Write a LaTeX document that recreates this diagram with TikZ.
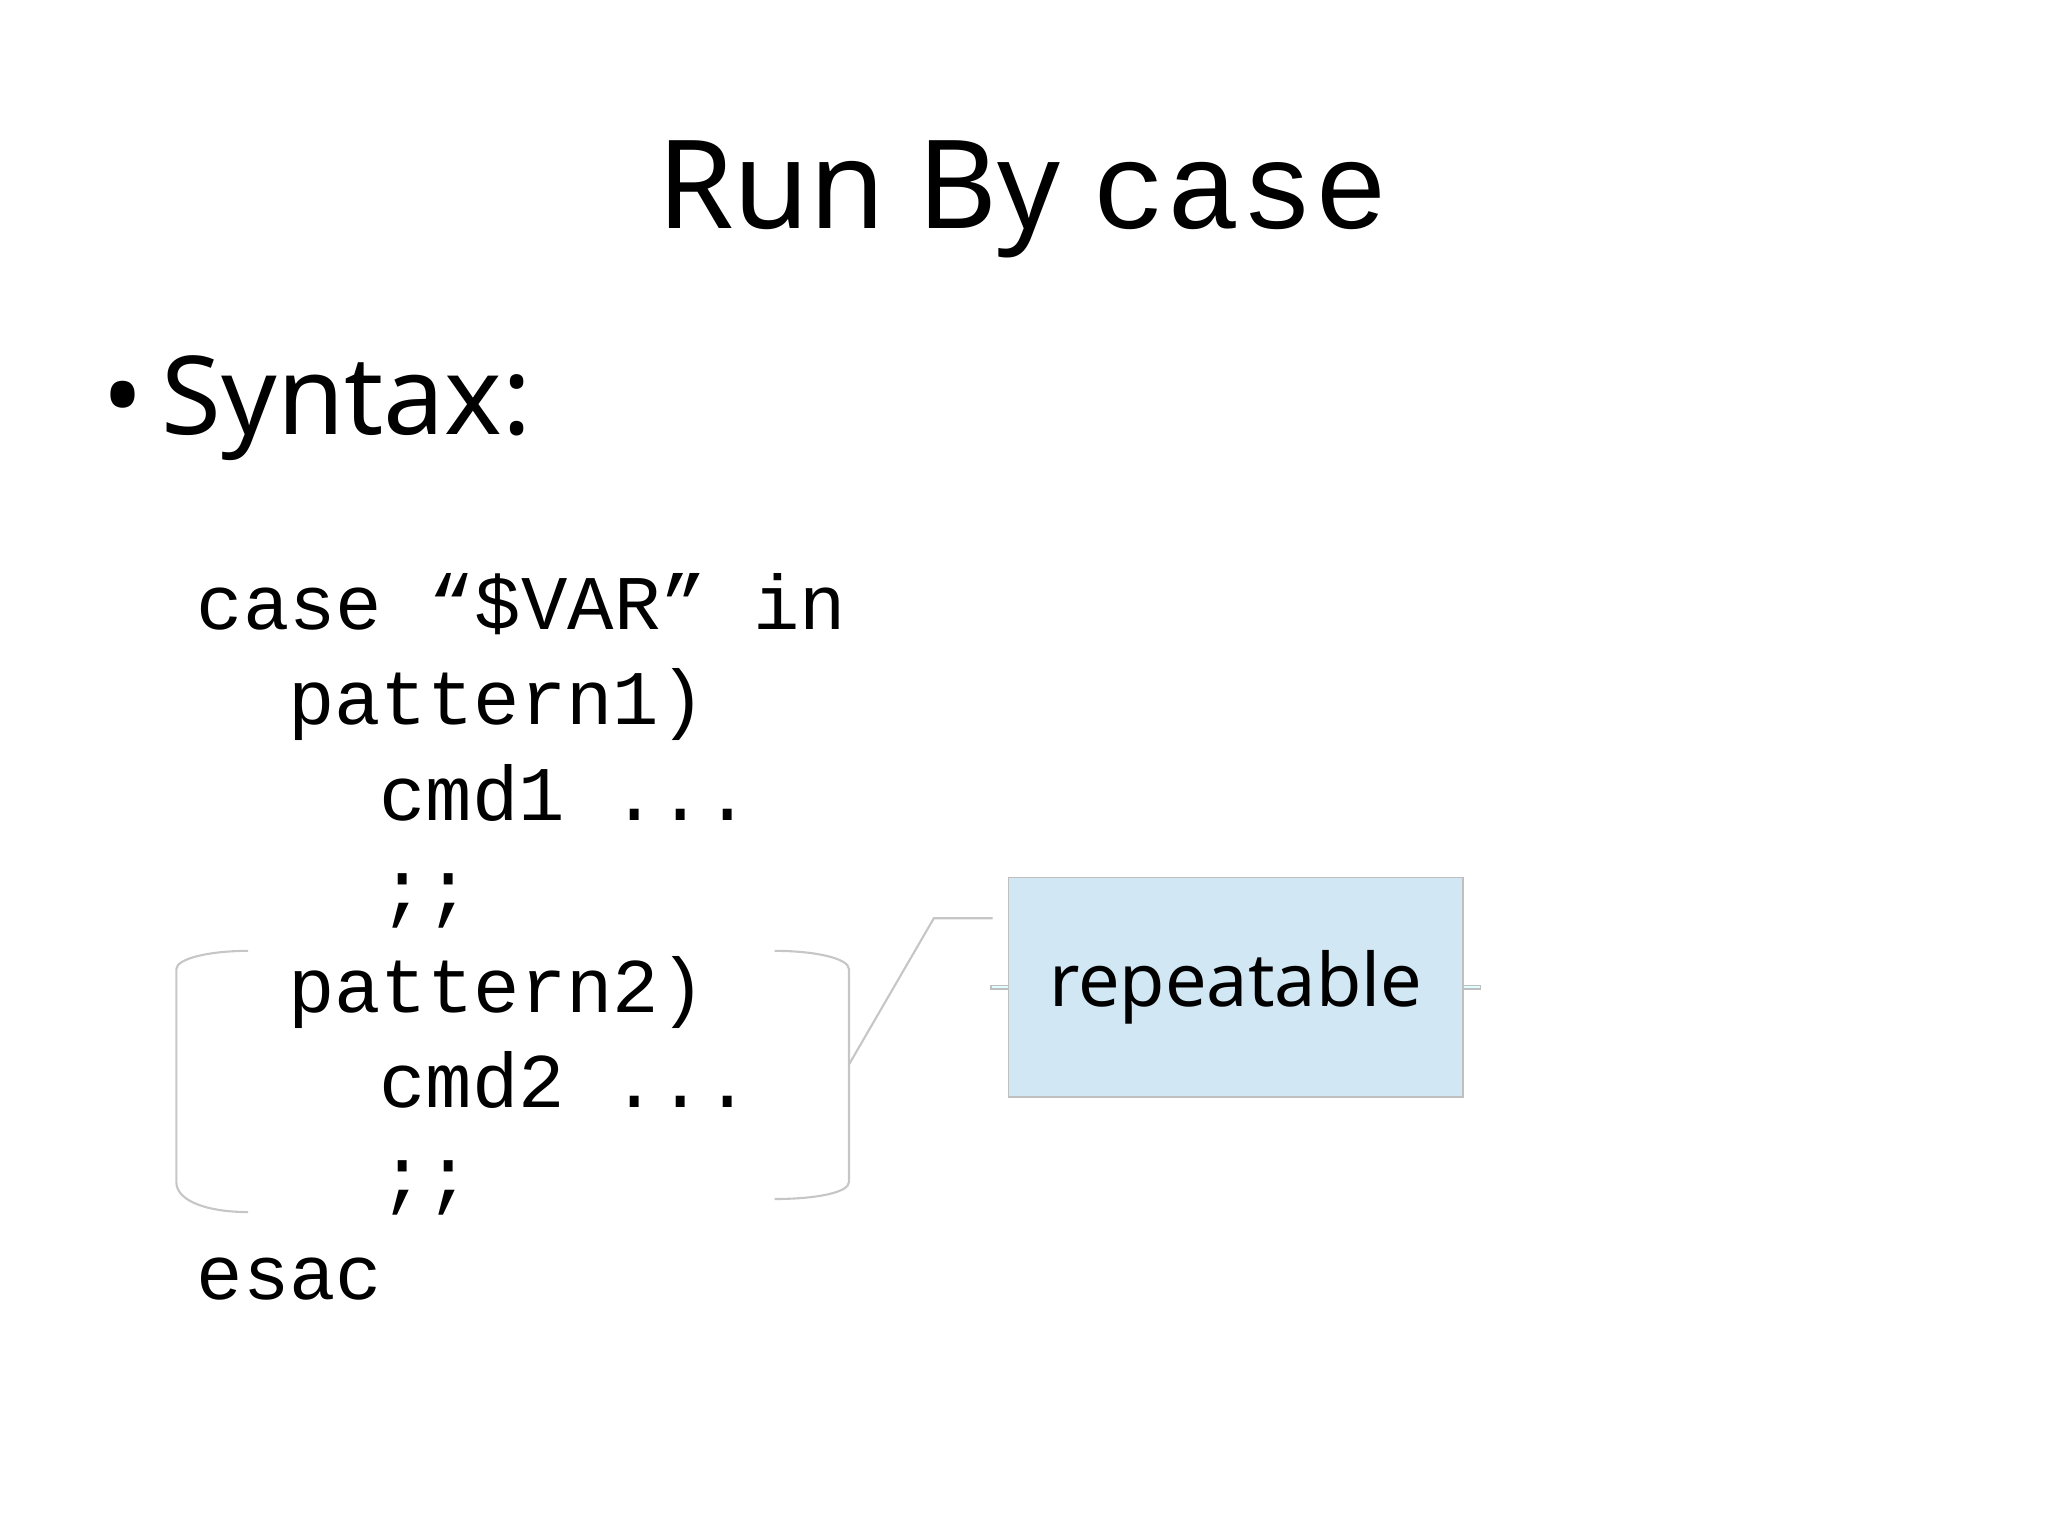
\documentclass[tikz,border=0pt]{standalone}
\usepackage{fontspec}
\setmainfont{Noto Sans}
\newfontfamily\codefont{Liberation Mono}
\begin{document}
\begin{tikzpicture}[x=0.01306cm,y=-0.01306cm,
  code/.style={anchor=base west,inner sep=0,font=\codefont\fontsize{22}{26}\selectfont},
  gline/.style={draw=gray!45,line width=0.6pt}]
\useasboundingbox (0,0) rectangle (1568,1175);
\node[anchor=base,inner sep=0] (title) at (783,175) {\fontsize{35}{40}\selectfont Run By {\codefont case}};
\node[anchor=base west,inner sep=0] (syn) at (78,333) {\fontsize{31}{36}\selectfont •\,Syntax:};
\node[code] (l1) at (150,482) {case “\$VAR” in};
\node[code] (l2) at (220,555) {pattern1)};
\node[code] (l3) at (290,628) {cmd1 ...};
\node[code] (l4) at (290,700) {;;};
\node[code] (l5) at (220,775) {pattern2)};
\node[code] (l6) at (290,848) {cmd2 ...};
\node[code] (l7) at (290,920) {;;};
\node[code] (l8) at (150,995) {esac};
\node[draw=gray!50,fill=cyan!8!blue!3!white,fill=blue!8!cyan!12!white,minimum width=348\pgflinewidth,inner sep=0] (rep) at (946,756) {};
\fill[fill={rgb,255:red,209;green,232;blue,244},draw=gray!50] (772,672) rectangle (1120,840);
\node[inner sep=0] (reptext) at (946,756) {\fontsize{21}{25}\selectfont repeatable};
\coordinate (bk) at (650,815);
\coordinate (mid) at (715,703);
\coordinate (end) at (760,703);
\draw[gline] (bk) -- (mid) -- (end);
\draw[gline] (190,728) .. controls (160,728) and (135,734) .. (135,742) -- (135,905) .. controls (135,920) and (160,928) .. (190,928);
\draw[gline] (593,728) .. controls (625,728) and (650,734) .. (650,742) -- (650,905) .. controls (650,913) and (625,918) .. (593,918);
\end{tikzpicture}
\end{document}
